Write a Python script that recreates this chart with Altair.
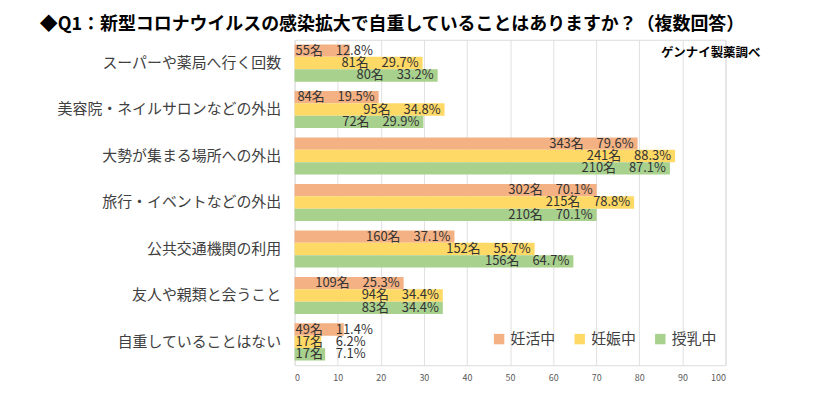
import altair as alt
import pandas as pd

categories = ["スーパーや薬局へ行く回数", "美容院・ネイルサロンなどの外出", "大勢が集まる場所への外出",
              "旅行・イベントなどの外出", "公共交通機関の利用", "友人や親類と会うこと", "自重していることはない"]
series = ["妊活中", "妊娠中", "授乳中"]
counts = {
    "妊活中": [55, 84, 343, 302, 160, 109, 49],
    "妊娠中": [81, 95, 241, 215, 152, 94, 17],
    "授乳中": [80, 72, 210, 210, 156, 83, 17],
}
percents = {
    "妊活中": [12.8, 19.5, 79.6, 70.1, 37.1, 25.3, 11.4],
    "妊娠中": [29.7, 34.8, 88.3, 78.8, 55.7, 34.4, 6.2],
    "授乳中": [33.2, 29.9, 87.1, 70.1, 64.7, 34.4, 7.1],
}
colors = ["#F4B183", "#FFD966", "#A9D18E"]
x_ticks = list(range(0, 101, 10))
title_text = "◆Q1：新型コロナウイルスの感染拡大で自重していることはありますか？（複数回答）"
source_text = "ゲンナイ製薬調べ"

rows = []
for s in series:
    for i, c in enumerate(categories):
        p = percents[s][i]
        rows.append({"cat": c, "series": s, "pct": p,
                     "label": f"{counts[s][i]}名\u3000{p}%",
                     "short": p < 15, "zero": 0})
df = pd.DataFrame(rows)

FONT = "Noto Sans CJK JP"

y_enc = alt.Y("cat:N", sort=categories, title=None,
              scale=alt.Scale(paddingInner=0.2, paddingOuter=0.1),
              axis=alt.Axis(domain=False, ticks=False, labelFontSize=15, labelColor="#404040",
                            labelFont=FONT, labelPadding=14, labelLimit=400))
yoff = alt.YOffset("series:N", sort=series)

base = alt.Chart(df)

bars = base.mark_bar().encode(
    x=alt.X("pct:Q", title=None, scale=alt.Scale(domain=[0, 100], nice=False),
            axis=alt.Axis(values=x_ticks, domain=False, ticks=False, labelFontSize=9,
                          labelColor="#595959", labelPadding=8, gridColor="#E0E0E0",
                          labelFont=FONT)),
    y=y_enc,
    yOffset=yoff,
    color=alt.Color("series:N", sort=series, scale=alt.Scale(domain=series, range=colors),
                    legend=alt.Legend(title=None, orient="none", legendX=198, legendY=293,
                                      direction="horizontal", symbolType="square",
                                      symbolSize=110, symbolStrokeWidth=0, labelFontSize=15,
                                      labelFont=FONT, labelColor="#404040", columnPadding=16,
                                      labelOffset=4)),
)

txt_long = base.transform_filter("!datum.short").mark_text(
    align="right", baseline="middle", dx=-4, fontSize=13, font=FONT, color="#333333"
).encode(x="pct:Q", y=alt.Y("cat:N", sort=categories), yOffset=yoff, text="label:N")

txt_short = base.transform_filter("datum.short").mark_text(
    align="left", baseline="middle", dx=1, fontSize=13, font=FONT, color="#333333"
).encode(x="zero:Q", y=alt.Y("cat:N", sort=categories), yOffset=yoff, text="label:N")

src = alt.Chart(pd.DataFrame({"t": [source_text]})).mark_text(
    align="right", baseline="middle", fontSize=12.5, fontWeight="bold", font=FONT, color="#000000"
).encode(x=alt.value(468), y=alt.value(13), text="t:N")

chart = alt.layer(bars, txt_long, txt_short, src).properties(
    width=433, height=327,
    title=alt.TitleParams(title_text, anchor="start", frame="group", dx=-256, offset=6,
                          fontSize=18, font=FONT, fontWeight="bold", color="#000000"),
    autosize=alt.AutoSizeParams(type="none"),
    padding={"left": 288, "top": 31, "right": 100, "bottom": 30},
).configure_view(stroke=None).configure(background="white")

chart.save("out.html", embed_options={"renderer": "svg", "actions": False})
